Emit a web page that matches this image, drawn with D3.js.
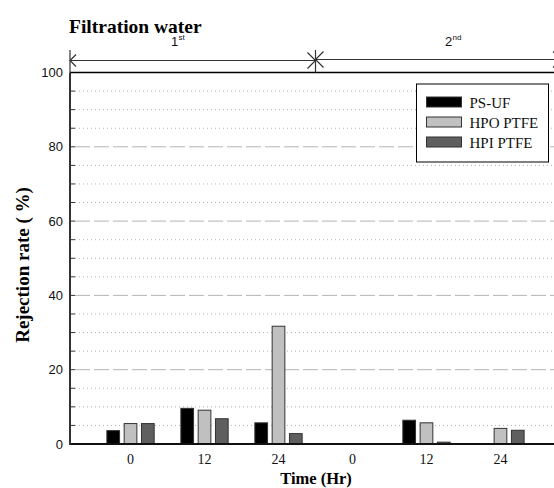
<!DOCTYPE html>
<html>
<head>
<meta charset="utf-8">
<script src="https://cdn.jsdelivr.net/npm/d3@7"></script>
<style>
  body {margin:0; background:#fff;}
  svg {display:block;}
  .serif {font-family:"Liberation Serif","Times New Roman",serif;}
  .sans {font-family:"Liberation Sans",Arial,sans-serif;}
</style>
</head>
<body>
<svg width="554" height="488"></svg>
<script>
// chart data
var groups = ["1st-0", "1st-12", "1st-24", "2nd-0", "2nd-12", "2nd-24"];
var timeLabels = ["0", "12", "24", "0", "12", "24"];
var series = ["PS-UF", "HPO PTFE", "HPI PTFE"];
var psUf = [3.6, 9.6, 5.7, 0, 6.4, 0];
var hpoPtfe = [5.5, 9.1, 31.7, 0, 5.7, 4.2];
var hpiPtfe = [5.5, 6.8, 2.8, 0, 0.5, 3.7];
var yTicks = [0, 20, 40, 60, 80, 100];
var runs = [{base: "1", sup: "st"}, {base: "2", sup: "nd"}];

var values = [psUf, hpoPtfe, hpiPtfe];
var fills = ["#000000", "#c0c0c0", "#5f5f5f"];

var svg = d3.select("svg"),
    plotLeft = 70, plotRight = 561, plotTop = 72.5, plotBottom = 444;

var x = d3.scaleBand().domain(groups).range([plotLeft, plotRight]).paddingInner(0).paddingOuter(0.318);
var x1 = d3.scaleBand().domain(series).range([-23.65, 23.65]).paddingInner(0.266);
var y = d3.scaleLinear().domain([0, 100]).range([plotBottom, plotTop]);
var color = d3.scaleOrdinal().domain(series).range(fills);

// grid lines every 5
var gridVals = d3.range(5, 100, 5);
svg.append("g").selectAll("line")
  .data(gridVals)
  .enter().append("line")
    .attr("x1", plotLeft + 5).attr("x2", plotRight)
    .attr("y1", function(d) { return y(d); })
    .attr("y2", function(d) { return y(d); })
    .attr("stroke", "#b4b4b4")
    .attr("stroke-width", 1)
    .attr("stroke-dasharray", function(d) { return d % 20 === 0 ? "15,4" : "1,3"; });

// inward ticks on the left axis
svg.append("g").selectAll("line")
  .data(gridVals)
  .enter().append("line")
    .attr("x1", plotLeft).attr("x2", plotLeft + 5)
    .attr("y1", function(d) { return y(d); })
    .attr("y2", function(d) { return y(d); })
    .attr("stroke", "#333")
    .attr("stroke-width", 1);

// bars
var bars = [];
groups.forEach(function(g, i) {
  series.forEach(function(s, j) {
    bars.push({group: g, key: s, value: values[j][i]});
  });
});
svg.append("g").selectAll("rect")
  .data(bars.filter(function(d) { return d.value > 0; }))
  .enter().append("rect")
    .attr("x", function(d) { return x(d.group) + x.bandwidth() / 2 + x1(d.key); })
    .attr("width", x1.bandwidth())
    .attr("y", function(d) { return y(d.value); })
    .attr("height", function(d) { return y(0) - y(d.value); })
    .attr("fill", function(d) { return color(d.key); })
    .attr("stroke", "#333")
    .attr("stroke-width", 1);

// axes frame
svg.append("line").attr("x1", plotLeft).attr("x2", plotRight).attr("y1", plotTop).attr("y2", plotTop)
  .attr("stroke", "#000").attr("stroke-width", 1.5);
svg.append("line").attr("x1", plotLeft).attr("x2", plotRight).attr("y1", plotBottom).attr("y2", plotBottom)
  .attr("stroke", "#111").attr("stroke-width", 2);
svg.append("line").attr("x1", plotLeft).attr("x2", plotLeft).attr("y1", plotTop).attr("y2", plotBottom + 1)
  .attr("stroke", "#333").attr("stroke-width", 2);

// y tick labels
svg.append("g").selectAll("text")
  .data(yTicks)
  .enter().append("text")
    .attr("class", "sans")
    .attr("x", plotLeft - 7)
    .attr("y", function(d) { return y(d); })
    .attr("dy", "0.35em")
    .attr("text-anchor", "end")
    .attr("font-size", 13)
    .attr("fill", "#111")
    .text(function(d) { return d; });

// x tick labels
svg.append("g").selectAll("text")
  .data(groups)
  .enter().append("text")
    .attr("class", "serif")
    .attr("x", function(d) { return x(d) + x.bandwidth() / 2; })
    .attr("y", 464)
    .attr("text-anchor", "middle")
    .attr("font-size", 14)
    .attr("fill", "#111")
    .text(function(d, i) { return timeLabels[i]; });

// axis titles
svg.append("text").attr("class", "serif")
  .attr("x", 316).attr("y", 484)
  .attr("text-anchor", "middle").attr("font-size", 16.5).attr("font-weight", "bold")
  .text("Time (Hr)");
svg.append("text").attr("class", "serif")
  .attr("transform", "translate(29,265) rotate(-90)")
  .attr("text-anchor", "middle").attr("font-size", 19).attr("font-weight", "bold")
  .text("Rejection rate ( %)");

// title
svg.append("text").attr("class", "serif")
  .attr("x", 69).attr("y", 33)
  .attr("font-size", 19.5).attr("font-weight", "bold")
  .text("Filtration water");

// run arrows above the plot
var divider = (x(groups[2]) + x.bandwidth() + x(groups[3])) / 2;
var arrows = svg.append("g").attr("stroke", "#333").attr("stroke-width", 1.2).attr("fill", "none");
var ay = 60.5;
arrows.append("line").attr("x1", plotLeft).attr("x2", divider).attr("y1", ay).attr("y2", ay);
arrows.append("line").attr("x1", divider).attr("x2", plotRight).attr("y1", ay - 1).attr("y2", ay - 1);
[plotLeft, divider, plotRight].forEach(function(px) {
  arrows.append("line").attr("x1", px).attr("x2", px).attr("y1", 50).attr("y2", plotTop);
});
arrows.append("path").attr("d", "M" + (plotLeft + 6) + "," + (ay - 6) + "L" + plotLeft + "," + ay + "L" + (plotLeft + 6) + "," + (ay + 6));
arrows.append("path").attr("d", "M" + (divider - 8) + "," + (ay - 8) + "L" + divider + "," + ay + "L" + (divider - 8) + "," + (ay + 8));
arrows.append("path").attr("d", "M" + (divider + 8) + "," + (ay - 9) + "L" + divider + "," + (ay - 1) + "L" + (divider + 8) + "," + (ay + 7));
arrows.append("path").attr("d", "M" + (plotRight - 8) + "," + (ay - 9) + "L" + plotRight + "," + (ay - 1) + "L" + (plotRight - 8) + "," + (ay + 7));

// run labels with superscript as a separate text
var runX = [divider - 141, divider + 133];
runs.forEach(function(r, i) {
  var b = svg.append("text").attr("class", "sans")
    .attr("x", runX[i]).attr("y", 46)
    .attr("text-anchor", "middle").attr("font-size", 13).attr("fill", "#111")
    .text(r.base);
  var w = b.node().getComputedTextLength();
  svg.append("text").attr("class", "sans")
    .attr("x", runX[i] + w / 2 + 0.5).attr("y", 40)
    .attr("font-size", 8).attr("fill", "#111")
    .text(r.sup);
});

// legend
var lg = svg.append("g").attr("transform", "translate(416.5,84)");
lg.append("rect").attr("width", 132).attr("height", 78)
  .attr("fill", "#fff").attr("stroke", "#000").attr("stroke-width", 1);
var items = lg.selectAll("g.item")
  .data(series)
  .enter().append("g").attr("class", "item")
    .attr("transform", function(d, i) { return "translate(10," + (13 + i * 20) + ")"; });
items.append("rect").attr("width", 35).attr("height", 10)
  .attr("fill", function(d) { return color(d); })
  .attr("stroke", "#333").attr("stroke-width", 1);
items.append("text").attr("class", "serif")
  .attr("x", 43).attr("y", 10.5)
  .attr("font-size", 15).attr("fill", "#111")
  .text(function(d) { return d; });
</script>
</body>
</html>
